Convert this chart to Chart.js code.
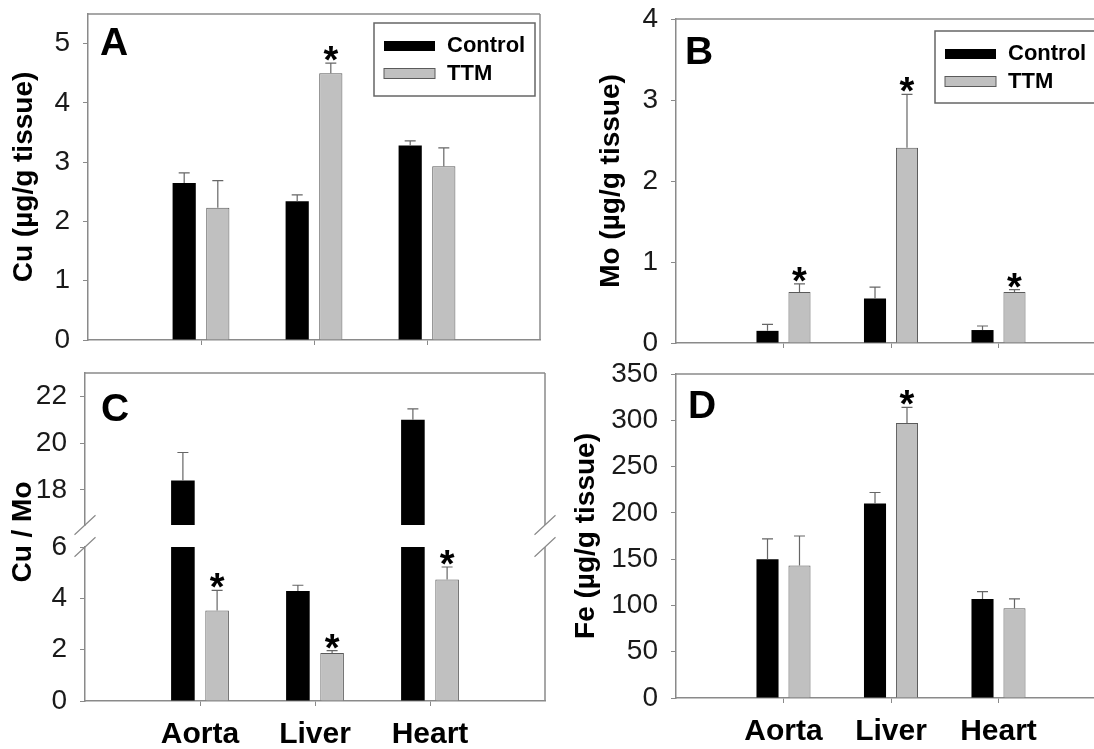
<!DOCTYPE html>
<html>
<head>
<meta charset="utf-8">
<script src="https://cdn.jsdelivr.net/npm/chart.js@4.4.0/dist/chart.umd.min.js"></script>
<style>
html, body { margin: 0; padding: 0; background: #fff; width: 1094px; height: 749px; overflow: hidden; }
canvas { position: absolute; left: 0; top: 0; }
</style>
</head>
<body>
<canvas id="chartA" width="1200" height="749"></canvas>
<canvas id="chartB" width="1200" height="749"></canvas>
<canvas id="chartC1" width="1200" height="749"></canvas>
<canvas id="chartC2" width="1200" height="749"></canvas>
<canvas id="chartD" width="1200" height="749"></canvas>
<script>
const organs = ['Aorta', 'Liver', 'Heart'];
const seriesNames = ['Control', 'TTM'];

// A - copper
const cuControl = [2.65, 2.34, 3.28];
const cuControlErr = [0.17, 0.11, 0.08];
const cuTTM = [2.23, 4.50, 2.93];
const cuTTMErr = [0.46, 0.17, 0.31];
const cuTicks = [0, 1, 2, 3, 4, 5];
const cuStars = [false, true, false];

// B - molybdenum
const moControl = [0.15, 0.55, 0.16];
const moControlErr = [0.08, 0.14, 0.05];
const moTTM = [0.63, 2.41, 0.63];
const moTTMErr = [0.10, 0.66, 0.03];
const moTicks = [0, 1, 2, 3, 4];
const moStars = [true, true, true];

// C - Cu / Mo ratio (broken axis)
const ratioControl = [18.4, 4.29, 21.0];
const ratioControlErr = [1.2, 0.22, 0.47];
const ratioTTM = [3.53, 1.87, 4.73];
const ratioTTMErr = [0.78, 0.09, 0.49];
const ratioTicksLow = [0, 2, 4, 6];
const ratioTicksHigh = [18, 20, 22];
const ratioStars = [true, true, true];

// D - iron
const feControl = [150, 210, 107];
const feControlErr = [22, 12, 8];
const feTTM = [143, 297, 97];
const feTTMErr = [32, 17, 10];
const feTicks = [0, 50, 100, 150, 200, 250, 300, 350];
const feStars = [false, true, false];

const FONT = "'Liberation Sans', Arial, sans-serif";
const AXIS = '#8a8a8a';
const CW = 1200, CH = 749;
const STAR = 38;

const pad = arr => [null, ...arr, null];

const deco = {
    id: 'deco',
    afterDatasetsDraw(chart, args, o) {
        const ctx = chart.ctx;
        const a = chart.chartArea;
        const y = chart.scales.y;
        ctx.save();

        // frame
        ctx.strokeStyle = AXIS;
        ctx.lineWidth = 1.5;
        ctx.beginPath();
        if (o.frame !== 'lower') {
            ctx.moveTo(a.left, a.top);
            ctx.lineTo(a.right, a.top);
        }
        ctx.moveTo(a.right, a.top);
        ctx.lineTo(a.right, a.bottom);
        ctx.stroke();
        if (o.frame === 'upper' || o.frame === 'lower') {
            const yb = o.frame === 'upper' ? a.bottom : a.top;
            ctx.lineWidth = 1.2;
            ctx.beginPath();
            [a.left, a.right].forEach(xb => {
                ctx.moveTo(xb - 10.5, yb + 9.8);
                ctx.lineTo(xb + 10.5, yb - 9.8);
            });
            ctx.stroke();
        }

        // error bars
        ctx.save();
        ctx.beginPath();
        ctx.rect(a.left, a.top - 1, a.right - a.left, a.bottom - a.top + 1);
        ctx.clip();
        ctx.strokeStyle = '#666';
        ctx.lineWidth = 1.2;
        o.errors.forEach((errs, di) => {
            const meta = chart.getDatasetMeta(di);
            const vals = chart.data.datasets[di].data;
            meta.data.forEach((bar, i) => {
                if (vals[i] == null) return;
                const y0 = y.getPixelForValue(vals[i]);
                const y1 = y.getPixelForValue(vals[i] + errs[i]);
                ctx.beginPath();
                ctx.moveTo(bar.x, y0);
                ctx.lineTo(bar.x, y1);
                ctx.moveTo(bar.x - 5.5, y1);
                ctx.lineTo(bar.x + 5.5, y1);
                ctx.stroke();
            });
        });
        ctx.restore();

        // significance stars over TTM bars
        ctx.fillStyle = '#000';
        ctx.font = 'bold ' + STAR + 'px ' + FONT;
        ctx.textAlign = 'center';
        ctx.textBaseline = 'alphabetic';
        const ttm = chart.getDatasetMeta(1);
        const ttmVals = chart.data.datasets[1].data;
        o.stars.forEach((s, i) => {
            if (!s) return;
            const bar = ttm.data[i];
            const py = y.getPixelForValue(ttmVals[i] + o.errors[1][i]);
            if (py < a.top - 2 || py > a.bottom) return;
            ctx.fillText('*', bar.x, py - 12 + 0.58 * STAR);
        });

        // legend
        if (o.legend) {
            const L = o.legend;
            const ds = chart.data.datasets;
            ctx.strokeStyle = '#666';
            ctx.lineWidth = 1.5;
            ctx.strokeRect(L.x, L.y, L.w, L.h);
            ctx.fillStyle = ds[0].backgroundColor;
            ctx.fillRect(L.x + 10, L.y + 18, 51, 10);
            ctx.fillStyle = ds[1].backgroundColor;
            ctx.fillRect(L.x + 10, L.y + 45.5, 51, 10);
            ctx.strokeStyle = ds[1].borderColor;
            ctx.lineWidth = 1;
            ctx.strokeRect(L.x + 10, L.y + 45.5, 51, 10);
            ctx.fillStyle = '#000';
            ctx.font = 'bold 22px ' + FONT;
            ctx.textAlign = 'left';
            ctx.textBaseline = 'middle';
            ctx.fillText(ds[0].label, L.x + 73, L.y + 23);
            ctx.fillText(ds[1].label, L.x + 73, L.y + 50.5);
        }

        // panel letter
        if (o.letter) {
            ctx.fillStyle = '#000';
            ctx.font = 'bold 39px ' + FONT;
            ctx.textAlign = 'left';
            ctx.textBaseline = 'alphabetic';
            ctx.fillText(o.letter.text, o.letter.x, o.letter.y);
        }

        // free y title (broken axis panel)
        if (o.sideTitle) {
            ctx.save();
            ctx.translate(o.sideTitle.x, o.sideTitle.y);
            ctx.rotate(-Math.PI / 2);
            ctx.fillStyle = '#000';
            ctx.font = 'bold 28px ' + FONT;
            ctx.textAlign = 'center';
            ctx.textBaseline = 'middle';
            ctx.fillText(o.sideTitle.text, 0, 0);
            ctx.restore();
        }
        ctx.restore();
    }
};

function makeChart(id, o) {
    return new Chart(document.getElementById(id), {
        type: 'bar',
        data: {
            labels: ['', ...organs, ''],
            datasets: [
                { label: seriesNames[0], data: pad(o.control), backgroundColor: '#000', borderColor: '#000', borderWidth: 0, clip: 0 },
                { label: seriesNames[1], data: pad(o.ttm), backgroundColor: '#c0c0c0', borderColor: '#5a5a5a', borderWidth: 1, clip: 0 }
            ]
        },
        options: {
            responsive: false,
            animation: false,
            events: [],
            layout: { padding: { left: o.l - o.yW, top: o.t, right: CW - o.r, bottom: CH - o.b - o.xH } },
            datasets: { bar: { categoryPercentage: 0.595, barPercentage: 0.69 } },
            scales: {
                x: {
                    display: o.xShow,
                    offset: false,
                    grid: {
                        offset: false,
                        drawOnChartArea: false,
                        tickLength: 5,
                        color: AXIS,
                        tickColor: c => (c.index === 0 || c.index === 4) ? 'rgba(0,0,0,0)' : AXIS
                    },
                    border: { color: AXIS, width: 1.5 },
                    ticks: {
                        display: o.xLabels,
                        autoSkip: false,
                        maxRotation: 0,
                        padding: 11,
                        color: '#000',
                        font: { family: FONT, size: 30, weight: 'bold' }
                    },
                    afterFit: s => { s.height = o.xH; }
                },
                y: {
                    min: o.min,
                    max: o.max,
                    afterBuildTicks: s => { s.ticks = o.ticks.map(v => ({ value: v })); },
                    grid: { drawOnChartArea: false, tickLength: 5, color: AXIS },
                    border: { color: AXIS, width: 1.5 },
                    ticks: { padding: 13, color: '#1a1a1a', font: { family: FONT, size: 28 } },
                    title: {
                        display: !!o.yTitle,
                        text: o.yTitle || '',
                        color: '#000',
                        padding: 0,
                        font: { family: FONT, size: 28, weight: 'bold', lineHeight: 1.2 }
                    },
                    afterFit: s => {
                        s.width = o.yW;
                        s.paddingTop = 0;
                        s.paddingBottom = 0;
                    }
                }
            },
            plugins: {
                legend: { display: false },
                tooltip: { enabled: false },
                deco: {
                    frame: o.frame,
                    errors: [pad(o.controlErr), pad(o.ttmErr)],
                    stars: pad(o.stars),
                    legend: o.legend,
                    letter: o.letter,
                    sideTitle: o.sideTitle
                }
            }
        },
        plugins: [deco]
    });
}

makeChart('chartA', {
    l: 88, t: 14, r: 540, b: 340, yW: 81, xH: 6, xShow: true, xLabels: false,
    min: 0, max: 5.5, ticks: cuTicks, yTitle: 'Cu (\u00b5g/g tissue)',
    control: cuControl, controlErr: cuControlErr, ttm: cuTTM, ttmErr: cuTTMErr, stars: cuStars,
    frame: 'box', legend: { x: 374, y: 23, w: 161, h: 73 }, letter: { text: 'A', x: 100, y: 55 }
});

makeChart('chartB', {
    l: 676, t: 19, r: 1106, b: 343, yW: 82, xH: 6, xShow: true, xLabels: false,
    min: 0, max: 4, ticks: moTicks, yTitle: 'Mo (\u00b5g/g tissue)',
    control: moControl, controlErr: moControlErr, ttm: moTTM, ttmErr: moTTMErr, stars: moStars,
    frame: 'box', legend: { x: 935, y: 31, w: 200, h: 72 }, letter: { text: 'B', x: 685, y: 64 }
});

makeChart('chartC1', {
    l: 85, t: 373, r: 545, b: 525, yW: 75, xH: 0, xShow: false, xLabels: false,
    min: 16.5, max: 23, ticks: ratioTicksHigh,
    control: ratioControl, controlErr: ratioControlErr, ttm: ratioTTM, ttmErr: ratioTTMErr, stars: ratioStars,
    frame: 'upper', letter: { text: 'C', x: 101, y: 421 }
});

makeChart('chartC2', {
    l: 85, t: 547, r: 545, b: 701, yW: 75, xH: 48, xShow: true, xLabels: true,
    min: 0, max: 6, ticks: ratioTicksLow,
    control: ratioControl, controlErr: ratioControlErr, ttm: ratioTTM, ttmErr: ratioTTMErr, stars: ratioStars,
    frame: 'lower', sideTitle: { text: 'Cu / Mo', x: 23, y: 532 }
});

makeChart('chartD', {
    l: 676, t: 374, r: 1106, b: 698, yW: 107, xH: 48, xShow: true, xLabels: true,
    min: 0, max: 350, ticks: feTicks, yTitle: 'Fe (\u00b5g/g tissue)',
    control: feControl, controlErr: feControlErr, ttm: feTTM, ttmErr: feTTMErr, stars: feStars,
    frame: 'box', letter: { text: 'D', x: 688, y: 418 }
});
</script>
</body>
</html>
